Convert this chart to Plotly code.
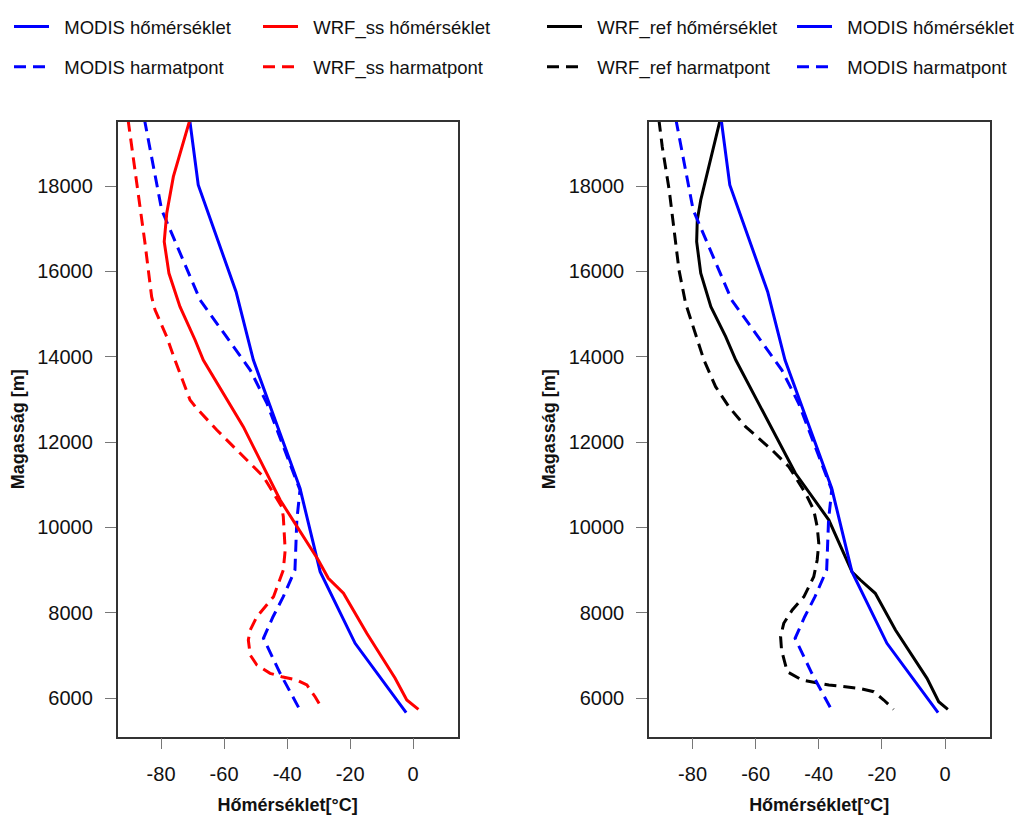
import plotly.graph_objects as go

# ---------------- data ----------------
# MODIS (same profile in both panels)
modis_t_h = [20000, 18028, 15526, 13925, 10917, 8961, 7282, 5655]
modis_t = [-71.7, -68.2, -56.2, -50.7, -35.9, -29.5, -18.4, -2.2]

modis_td_h = [20000, 17442, 15332, 13690, 12910, 10877, 10173, 9001, 8375, 7900, 7400, 6579, 5758]
modis_td = [-86.4, -79.8, -67.6, -51.7, -46.4, -35.9, -36.9, -37.5, -41.2, -44.5, -47.5, -42.2, -36.2]

# WRF_ss
wrfss_t_h = [19800, 18223, 17364, 16698, 15958, 15175, 14394, 13925, 12361, 10642,
             9236, 8806, 8455, 7517, 6462, 5953, 5735]
wrfss_t = [-69.9, -76.1, -78.2, -79.0, -77.5, -74.0, -69.2, -66.6, -53.9, -42.2,
           -30.1, -26.9, -22.1, -14.7, -5.7, -2.0, 1.7]

wrfss_td_h = [20000, 18926, 17834, 16661, 15409, 15097, 14471, 13925, 12987, 12792,
              12284, 11737, 11189, 10800, 10485, 10251, 9470, 9001, 8375, 7906,
              7594, 7360, 7008, 6774, 6579, 6499, 6422, 6305, 6030, 5735]
wrfss_td = [-91.3, -89.3, -87.2, -85.1, -83.0, -81.9, -78.2, -75.6, -70.8, -68.7,
            -62.3, -54.9, -47.5, -44.3, -41.7, -41.2, -40.6, -41.2, -44.3, -49.6,
            -51.7, -52.3, -51.7, -49.6, -45.4, -41.7, -36.9, -33.7, -31.1, -28.7]

# WRF_ref
wrfref_t_h = [20000, 18302, 17676, 17208, 16699, 15958, 15175, 14471, 13925, 11268,
              10173, 8961, 8767, 8455, 7594, 6462, 5913, 5735]
wrfref_t = [-69.8, -75.3, -77.4, -78.5, -78.7, -77.4, -74.2, -69.5, -66.3, -47.4,
            -36.8, -29.5, -26.8, -22.1, -15.7, -5.7, -2.0, 0.9]

wrfref_td_h = [20000, 18926, 17911, 17050, 16035, 15253, 14394, 13925, 13299, 12830,
               12361, 11815, 11424, 11189, 10800, 10408, 10016, 9627, 9236, 8844,
               8375, 8063, 7752, 7437, 7125, 6617, 6422, 6305, 6227, 6148, 5953, 5735]
wrfref_td = [-91.4, -89.6, -87.4, -85.9, -84.3, -82.2, -78.5, -76.4, -72.7, -68.5,
             -63.2, -54.8, -49.5, -47.4, -44.2, -41.6, -40.5, -40.0, -40.5, -41.6,
             -44.7, -48.4, -51.1, -52.1, -51.8, -50.0, -45.3, -36.8, -27.3, -22.6, -19.4, -16.3]

x_ticks = [-80, -60, -40, -20, 0]
x_tick_labels = ["-80", "-60", "-40", "-20", "0"]
y_ticks = [6000, 8000, 10000, 12000, 14000, 16000, 18000]
y_tick_labels = ["6000", "8000", "10000", "12000", "14000", "16000", "18000"]
x_title = "Hőmérséklet[°C]"
y_title = "Magasság [m]"

# ---------------- figure ----------------
FONT = "Liberation Sans, Arial, sans-serif"
BLUE, RED, BLACK = "#0000FF", "#FF0000", "#000000"
DASH = "12px,7px"
GAP = "\u00a0\u00a0"

fig = go.Figure()


def add(x, y, name, color, dash, xa, ya, legend):
    fig.add_trace(go.Scatter(
        x=x, y=y, mode="lines", name=GAP + name, showlegend=True,
        line=dict(color=color, width=3, dash=dash),
        xaxis=xa, yaxis=ya, legend=legend, hoverinfo="skip"))


# left panel
add(modis_t, modis_t_h, "MODIS hőmérséklet", BLUE, "solid", "x", "y", "legend")
add(modis_td, modis_td_h, "MODIS harmatpont", BLUE, DASH, "x", "y", "legend2")
add(wrfss_t, wrfss_t_h, "WRF_ss hőmérséklet", RED, "solid", "x", "y", "legend3")
add(wrfss_td, wrfss_td_h, "WRF_ss harmatpont", RED, DASH, "x", "y", "legend4")
# right panel
add(wrfref_t, wrfref_t_h, "WRF_ref hőmérséklet", BLACK, "solid", "x2", "y2", "legend5")
add(wrfref_td, wrfref_td_h, "WRF_ref harmatpont", BLACK, DASH, "x2", "y2", "legend6")
add(modis_t, modis_t_h, "MODIS hőmérséklet", BLUE, "solid", "x2", "y2", "legend7")
add(modis_td, modis_td_h, "MODIS harmatpont", BLUE, DASH, "x2", "y2", "legend8")

OFF = 8  # the page body adds an 8 px margin
W, H = 1025 - OFF, 817 - OFF
XR = [-93.8, 14.1]
YR = [5093, 19512]


def px_x(p):
    return (p - OFF) / W


def px_y(p):
    return 1 - (p - OFF) / H


common_x = dict(range=XR, tickvals=x_ticks, ticktext=x_tick_labels, ticks="outside",
                ticklen=11, tickwidth=1, tickcolor="#777777", showline=True,
                linecolor="#333333", linewidth=1.5, mirror=True, showgrid=False,
                zeroline=False, tickfont=dict(size=20, color="#111111", family=FONT),
                ticklabelstandoff=8,
                title=dict(text=x_title, font=dict(size=18, family=FONT, weight="bold",
                                                   color="#111111"), standoff=14),
                automargin=False)
common_y = dict(range=YR, tickvals=y_ticks, ticktext=y_tick_labels, ticks="outside",
                ticklen=11, tickwidth=1, tickcolor="#777777", showline=True,
                linecolor="#333333", linewidth=1.5, mirror=True, showgrid=False,
                zeroline=False, tickfont=dict(size=20, color="#111111", family=FONT),
                ticklabelstandoff=8,
                title=dict(text=y_title, font=dict(size=18, family=FONT, weight="bold",
                                                   color="#111111"), standoff=8),
                automargin=False)

ydom = [px_y(736.7), px_y(121.7)]
fig.update_layout(
    width=W, height=H,
    margin=dict(l=0, r=0, t=0, b=0),
    paper_bgcolor="white", plot_bgcolor="white",
    font=dict(family=FONT),
    showlegend=True,
    xaxis=dict(domain=[px_x(117.6), px_x(457.5)], anchor="y", **common_x),
    yaxis=dict(domain=ydom, anchor="x", **common_y),
    xaxis2=dict(domain=[px_x(649), px_x(989.5)], anchor="y2", **common_x),
    yaxis2=dict(domain=ydom, anchor="x2", **common_y),
)

col_x = [14, 263, 547, 797]
order = ["legend", "legend2", "legend3", "legend4", "legend5", "legend6", "legend7", "legend8"]
for i, lg in enumerate(order):
    c, r = divmod(i, 2)
    if r == 0:
        pos = dict(y=1.0, yanchor="top")           # top row: as high as the page allows
    else:
        pos = dict(y=px_y(67.2), yanchor="middle")  # second row
    fig.update_layout({lg: dict(
        x=px_x(col_x[c] - 5), xanchor="left", xref="paper", yref="paper",
        bgcolor="rgba(0,0,0,0)", borderwidth=0, itemwidth=35,
        font=dict(size=18.5, family=FONT, color="#111111"),
        orientation="v", **pos)})

fig.write_html("out.html")
